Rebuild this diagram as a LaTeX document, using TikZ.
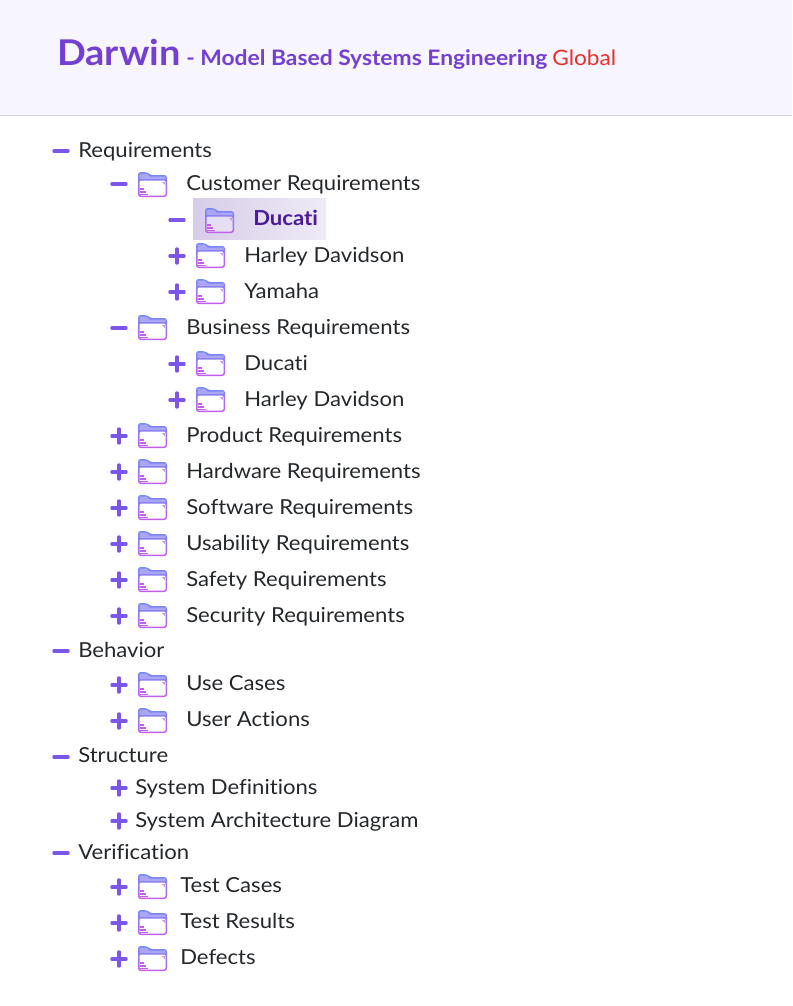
\documentclass[tikz,border=0pt]{standalone}
\usepackage{fontspec}
\setmainfont[FakeStretch=1.07,Ligatures=NoCommon]{Lato}
\usetikzlibrary{shadings}

\definecolor{headbg}{HTML}{F7F5FE}
\definecolor{headline}{HTML}{D5D3DC}
\definecolor{darwin}{HTML}{7440D2}
\definecolor{globalred}{HTML}{E8302A}
\definecolor{signcol}{HTML}{7B57E8}
\definecolor{textcol}{HTML}{25282B}
\definecolor{selcol}{HTML}{4A1A9A}
\definecolor{foldtop}{HTML}{6F8CF5}
\definecolor{foldbot}{HTML}{C45CF0}
\definecolor{foldband}{HTML}{ABA6F4}

\tikzset{
    x=0.75pt, y=-0.75pt,
    label/.style={anchor=base west, inner sep=0pt, text=textcol, font=\fontsize{15.5}{18}\selectfont},
    sellabel/.style={anchor=base west, inner sep=0pt, text=selcol, font=\fontsize{15.5}{18}\selectfont\bfseries},
    signline/.style={draw=signcol, line width=2.3pt, line cap=round},
    pics/minus/.style={code={
        \draw[signline] (-7.2,0) -- (7.2,0);
    }},
    pics/plus/.style={code={
        \draw[signline] (-7.2,0) -- (7.2,0);
        \draw[signline] (0,-7.2) -- (0,7.2);
    }},
    pics/folder/.style={code={
        \path[top color=foldtop, bottom color=foldbot, rounded corners=2pt]
            (0,0) -- (9,0) -- (12,3) -- (29,3) -- (29,25) -- (0,25) -- cycle;
        \path[fill=foldband] (1.5,1.5) -- (8.5,1.5) -- (11.5,4.5) -- (27.5,4.5) -- (27.5,7) -- (1.5,7) -- cycle;
        \path[fill=#1, rounded corners=1pt] (1.5,8.5) rectangle (27.5,23.5);
        \path[fill=foldbot!80!foldtop!70!white] (24,10) -- (27,10) -- (27,13) -- cycle;
        \draw[foldbot, line width=0.8pt] (2,17) -- (6,17);
        \draw[foldbot, line width=0.8pt] (2,20) -- (8,20);
        \draw[foldbot, line width=0.8pt] (2,22.6) -- (10,22.6);
    }}
}

\begin{document}
\begin{tikzpicture}
    \useasboundingbox (0,0) rectangle (792,1006);

    % header
    \path[fill=headbg] (0,0) rectangle (792,115);
    \draw[headline, line width=0.75pt] (0,115.5) -- (792,115.5);
    \node[anchor=base west, inner sep=0pt, text=darwin, font=\fontsize{26.6}{30}\selectfont\bfseries] (darwin) at (57,65) {Darwin};
    \node[anchor=base west, inner sep=0pt, text=darwin, font=\fontsize{16}{20}\selectfont\bfseries] (mbse) at (186,65) {- Model Based Systems Engineering};
    \node[anchor=base west, inner sep=0pt, text=globalred, font=\fontsize{15.9}{20}\selectfont] (global) at (552,65) {Global};

    % requirements
    \pic at (61,151) {minus};
    \node[label] (req) at (78,157) {Requirements};

    \pic at (119,184) {minus};
    \pic at (138,172) {folder=white};
    \node[label] (cust) at (186,190) {Customer Requirements};

    \path[left color=selcol!22!white, right color=selcol!9!white] (193,198) rectangle (326,239);
    \pic at (177,220) {minus};
    \pic at (205,208) {folder=selcol!14!white};
    \node[sellabel] (custdu) at (253,225) {Ducati};

    \pic at (177,256) {plus};
    \pic at (196,243) {folder=white};
    \node[label] (custha) at (244,262) {Harley Davidson};
    \pic at (177,292) {plus};
    \pic at (196,279) {folder=white};
    \node[label] (custya) at (244,298) {Yamaha};

    \pic at (119,328) {minus};
    \pic at (138,315) {folder=white};
    \node[label] (bus) at (186,334) {Business Requirements};
    \pic at (177,364) {plus};
    \pic at (196,351) {folder=white};
    \node[label] (busdu) at (244,370) {Ducati};
    \pic at (177,400) {plus};
    \pic at (196,387) {folder=white};
    \node[label] (busha) at (244,406) {Harley Davidson};

    \pic at (119,436) {plus};
    \pic at (138,423) {folder=white};
    \node[label] (prod) at (186,442) {Product Requirements};
    \pic at (119,472) {plus};
    \pic at (138,459) {folder=white};
    \node[label] (hard) at (186,478) {Hardware Requirements};
    \pic at (119,508) {plus};
    \pic at (138,495) {folder=white};
    \node[label] (soft) at (186,514) {Software Requirements};
    \pic at (119,544) {plus};
    \pic at (138,531) {folder=white};
    \node[label] (usab) at (186,550) {Usability Requirements};
    \pic at (119,580) {plus};
    \pic at (138,567) {folder=white};
    \node[label] (safe) at (186,586) {Safety Requirements};
    \pic at (119,616) {plus};
    \pic at (138,603) {folder=white};
    \node[label] (secu) at (186,622) {Security Requirements};

    % behavior
    \pic at (61,651) {minus};
    \node[label] (beh) at (78,657) {Behavior};
    \pic at (119,685) {plus};
    \pic at (138,672) {folder=white};
    \node[label] (use) at (186,690) {Use Cases};
    \pic at (119,721) {plus};
    \pic at (138,708) {folder=white};
    \node[label] (act) at (186,726) {User Actions};

    % structure
    \pic at (61,757) {minus};
    \node[label] (str) at (78,762) {Structure};
    \pic at (119,788) {plus};
    \node[label] (sysdef) at (135,794) {System Definitions};
    \pic at (119,821) {plus};
    \node[label] (sysarc) at (135,827) {System Architecture Diagram};

    % verification
    \pic at (61,853) {minus};
    \node[label] (ver) at (78,859) {Verification};
    \pic at (119,887) {plus};
    \pic at (138,874) {folder=white};
    \node[label] (tcase) at (180,892) {Test Cases};
    \pic at (119,923) {plus};
    \pic at (138,910) {folder=white};
    \node[label] (tres) at (180,928) {Test Results};
    \pic at (119,959) {plus};
    \pic at (138,946) {folder=white};
    \node[label] (defe) at (180,964) {Defects};
\end{tikzpicture}
\end{document}
